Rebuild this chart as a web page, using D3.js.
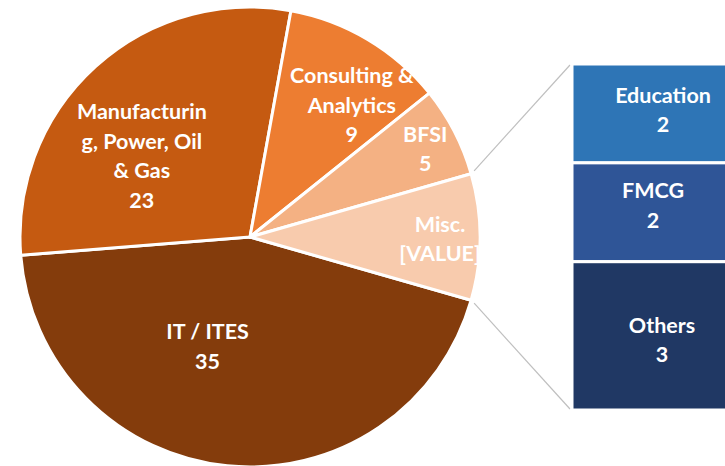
<!DOCTYPE html>
<html>
<head>
	<meta charset="utf-8">
	<title>pie of bar</title>
	<script src="https://cdn.jsdelivr.net/npm/d3@7"></script>
</head>
<style type="text/css">
body
{
	margin: 0;
	background-color: #ffffff;
}
.lbl
{
	fill: #ffffff;
	font-family: Lato, "Open Sans", sans-serif;
	font-weight: bold;
	font-size: 21.5px;
	text-anchor: middle;
}
</style>
<body>
<script type="text/javascript">
	// data
	var pieCategories = ["IT / ITES", "Manufacturing, Power, Oil & Gas", "Consulting & Analytics", "BFSI", "Misc."];
	var pieValues = [35, 23, 9, 5];
	var barCategories = ["Education", "FMCG", "Others"];
	var barValues = [2, 2, 3];

	// how excel wrapped the labels
	var pieLabelLines = [["IT / ITES"], ["Manufacturin", "g, Power, Oil", "& Gas"], ["Consulting &", "Analytics"], ["BFSI"], ["Misc."]];
	var pieValueText = ["35", "23", "9", "5", "[VALUE]"];
	var labelNudge = [[-31, -5], [-31, 4], [43, -33], [73, -35], [75, 2]];
	var barLabelNudge = [[3, -3.5], [-7, -7], [2, 4]];

	var w = 725;
	var h = 466;
	var cx = 250, cy = 237, r = 230;
	var lineH = 29.5;

	var pieColors = ["#843C0C", "#C55A11", "#ED7D31", "#F4B183", "#F8CBAD"];
	var barColors = ["#2E75B6", "#2F5597", "#203864"];

	var svg = d3.select("body").append("svg").attr("width", w).attr("height", h);

	var allPie = pieValues.concat([d3.sum(barValues)]);
	var total = d3.sum(allPie);
	var miscSpan = allPie[allPie.length - 1] / total * 2 * Math.PI;
	// misc slice sits centred on the right side
	var a0 = Math.PI / 2 + miscSpan / 2;

	var pie = d3.pie().sort(null).startAngle(a0).endAngle(a0 + 2 * Math.PI);
	var arcs = pie(allPie);
	var arc = d3.arc().innerRadius(0).outerRadius(r);

	var g = svg.append("g").attr("transform", "translate(" + cx + "," + cy + ")");

	g.selectAll("path").data(arcs).enter().append("path")
		.attr("d", arc)
		.attr("fill", function(d, i){return pieColors[i];})
		.attr("stroke", "#ffffff")
		.attr("stroke-width", 3)
		.attr("stroke-linejoin", "round");

	// bar of the misc slice
	var barX = 572, barW = 176;
	var ybar = d3.scaleLinear().domain([0, d3.sum(barValues)]).range([64, 410]);
	var cum = d3.cumsum(barValues);
	var barData = barValues.map(function(v, i){return {name: barCategories[i], value: v, y0: cum[i] - v, y1: cum[i]};});

	// connector lines
	var miscArc = arcs[arcs.length - 1];
	function edge(a){return [cx + r * Math.sin(a), cy - r * Math.cos(a)];}
	var pTop = edge(miscArc.startAngle), pBot = edge(miscArc.endAngle);
	svg.append("line").attr("x1", pTop[0] + 3).attr("y1", pTop[1] - 3).attr("x2", barX - 2).attr("y2", ybar(0) + 1)
		.attr("stroke", "#BFBFBF").attr("stroke-width", 1.2);
	svg.append("line").attr("x1", pBot[0] + 3).attr("y1", pBot[1] + 3).attr("x2", barX - 2).attr("y2", ybar(d3.sum(barValues)) - 1)
		.attr("stroke", "#BFBFBF").attr("stroke-width", 1.2);

	svg.selectAll("rect.bar").data(barData).enter().append("rect")
		.attr("class", "bar")
		.attr("x", barX)
		.attr("y", function(d){return ybar(d.y0);})
		.attr("width", barW)
		.attr("height", function(d){return ybar(d.y1) - ybar(d.y0);})
		.attr("fill", function(d, i){return barColors[i];})
		.attr("stroke", "#ffffff")
		.attr("stroke-width", 3);

	function block(x, y, lines)
	{
		var t = svg.append("text").attr("class", "lbl");
		lines.forEach(function(s, i){
			t.append("tspan").attr("x", x).attr("y", y + (i - (lines.length - 1) / 2) * lineH).attr("dy", "0.35em").text(s);
		});
	}

	arcs.forEach(function(d, i){
		var c = arc.centroid(d);
		block(cx + c[0] + labelNudge[i][0], cy + c[1] + labelNudge[i][1], pieLabelLines[i].concat([pieValueText[i]]));
	});

	barData.forEach(function(d, i){
		block(barX + 88 + barLabelNudge[i][0], (ybar(d.y0) + ybar(d.y1)) / 2 + barLabelNudge[i][1], [d.name, String(d.value)]);
	});
</script>
</body>
</html>
